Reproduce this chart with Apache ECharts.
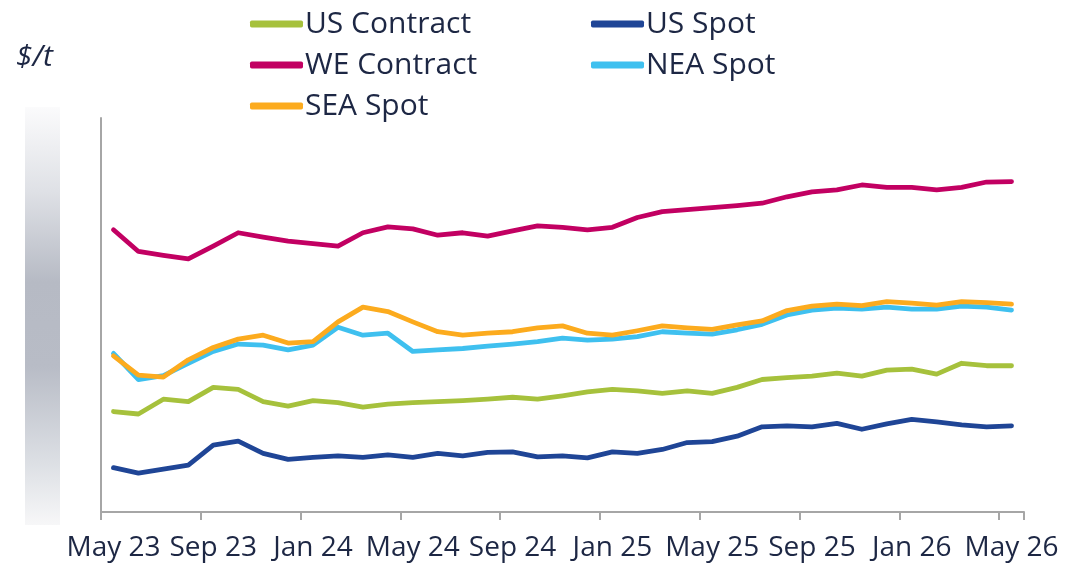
<!DOCTYPE html>
<html>
<head>
<meta charset="utf-8">
<script src="https://cdn.jsdelivr.net/npm/echarts@6/dist/echarts.min.js"></script>
<style>
    html, body {
        margin: 0;
        padding: 0;
        background: #ffffff;
    }

    #chart {
        width: 1069px;
        height: 573px;
    }
</style>
</head>
<body>
<div id="chart"></div>
<script>
// months May 23 .. May 26
const months = [
    'May 23', 'Jun 23', 'Jul 23', 'Aug 23', 'Sep 23', 'Oct 23', 'Nov 23', 'Dec 23',
    'Jan 24', 'Feb 24', 'Mar 24', 'Apr 24', 'May 24', 'Jun 24', 'Jul 24', 'Aug 24',
    'Sep 24', 'Oct 24', 'Nov 24', 'Dec 24', 'Jan 25', 'Feb 25', 'Mar 25', 'Apr 25',
    'May 25', 'Jun 25', 'Jul 25', 'Aug 25', 'Sep 25', 'Oct 25', 'Nov 25', 'Dec 25',
    'Jan 26', 'Feb 26', 'Mar 26', 'Apr 26', 'May 26'
];

// $/t
const usContract = [204, 199, 229, 224, 253, 249, 224, 215, 226, 222, 213, 219, 222, 224, 226, 229, 233, 229, 236, 244, 249, 246, 241, 246, 241, 253, 269, 273, 276, 282, 276, 288, 290, 280, 302, 297, 297];
const usSpot = [90, 79, 87, 95, 136, 144, 119, 107, 111, 114, 111, 116, 111, 119, 114, 121, 122, 112, 114, 110, 122, 119, 127, 141, 143, 154, 173, 175, 173, 180, 168, 179, 188, 183, 177, 173, 175];
const weContract = [573, 529, 521, 514, 540, 567, 558, 550, 545, 540, 567, 579, 575, 562, 567, 560, 571, 581, 578, 573, 578, 598, 610, 614, 618, 622, 627, 640, 650, 654, 664, 659, 659, 654, 659, 670, 671];
const neaSpot = [322, 269, 277, 302, 326, 341, 339, 329, 339, 375, 359, 363, 326, 329, 332, 337, 341, 346, 353, 349, 351, 356, 366, 363, 361, 370, 381, 400, 410, 414, 412, 416, 412, 412, 418, 416, 410];
const seaSpot = [317, 278, 274, 309, 334, 351, 359, 343, 346, 386, 416, 407, 386, 366, 359, 363, 366, 374, 378, 363, 359, 368, 378, 374, 371, 380, 388, 409, 418, 422, 419, 427, 424, 420, 427, 425, 422];

const textColor = '#1d2744';
const axisColor = '#a6a6a6';
const font = '"Open Sans", "Noto Sans", sans-serif';

const legendText = {
    color: textColor,
    fontFamily: font,
    fontSize: 30,
    lineHeight: 32,
    padding: [0, 0, 0, -3]
};

function line(name, data, color) {
    return {
        name: name,
        type: 'line',
        data: data,
        symbol: 'none',
        smooth: false,
        lineStyle: { width: 4.8, color: color, cap: 'round', join: 'round' },
        itemStyle: { color: color }
    };
}

const chart = echarts.init(document.getElementById('chart'));
chart.setOption({
    animation: false,
    title: {
        text: '$/t',
        left: 11,
        top: 37,
        textStyle: {
            color: textColor,
            fontFamily: font,
            fontStyle: 'italic',
            fontWeight: 'normal',
            fontSize: 30
        }
    },
    legend: [
        {
            orient: 'vertical',
            left: 245,
            top: 3,
            itemWidth: 53,
            itemHeight: 7,
            itemGap: 9,
            icon: 'roundRect',
            data: ['US Contract', 'WE Contract', 'SEA Spot'],
            textStyle: legendText
        },
        {
            orient: 'vertical',
            left: 586,
            top: 3,
            itemWidth: 53,
            itemHeight: 7,
            itemGap: 9,
            icon: 'roundRect',
            data: ['US Spot', 'NEA Spot'],
            textStyle: legendText
        }
    ],
    // grey band where the value labels were
    graphic: [
        {
            type: 'rect',
            shape: { x: 25, y: 107, width: 35, height: 418 },
            style: {
                fill: new echarts.graphic.LinearGradient(0, 0, 0, 1, [
                    { offset: 0, color: '#fbfbfc' },
                    { offset: 0.2, color: '#dfe1e6' },
                    { offset: 0.42, color: '#b6bac4' },
                    { offset: 0.62, color: '#b8bcc6' },
                    { offset: 0.85, color: '#dcdfe4' },
                    { offset: 1, color: '#f7f7f8' }
                ])
            },
            z: 0
        }
    ],
    grid: {
        left: 101,
        right: 45,
        top: 118,
        bottom: 61
    },
    xAxis: {
        type: 'category',
        data: months,
        boundaryGap: true,
        axisLine: { lineStyle: { color: axisColor, width: 2 } },
        axisTick: { show: true, interval: 3, length: 8, lineStyle: { color: axisColor, width: 2 } },
        axisLabel: {
            interval: 3,
            margin: 22,
            color: textColor,
            fontFamily: font,
            fontSize: 28
        },
        splitLine: { show: false }
    },
    yAxis: {
        type: 'value',
        min: 0,
        max: 800,
        axisLine: { show: true, lineStyle: { color: axisColor, width: 2 } },
        axisTick: { show: false },
        axisLabel: { show: false },
        splitLine: { show: false }
    },
    series: [
        line('US Contract', usContract, '#a6c13c'),
        line('US Spot', usSpot, '#1f4596'),
        line('WE Contract', weContract, '#c20062'),
        line('NEA Spot', neaSpot, '#3fc0ef'),
        line('SEA Spot', seaSpot, '#fcab1e')
    ]
});
</script>
</body>
</html>
